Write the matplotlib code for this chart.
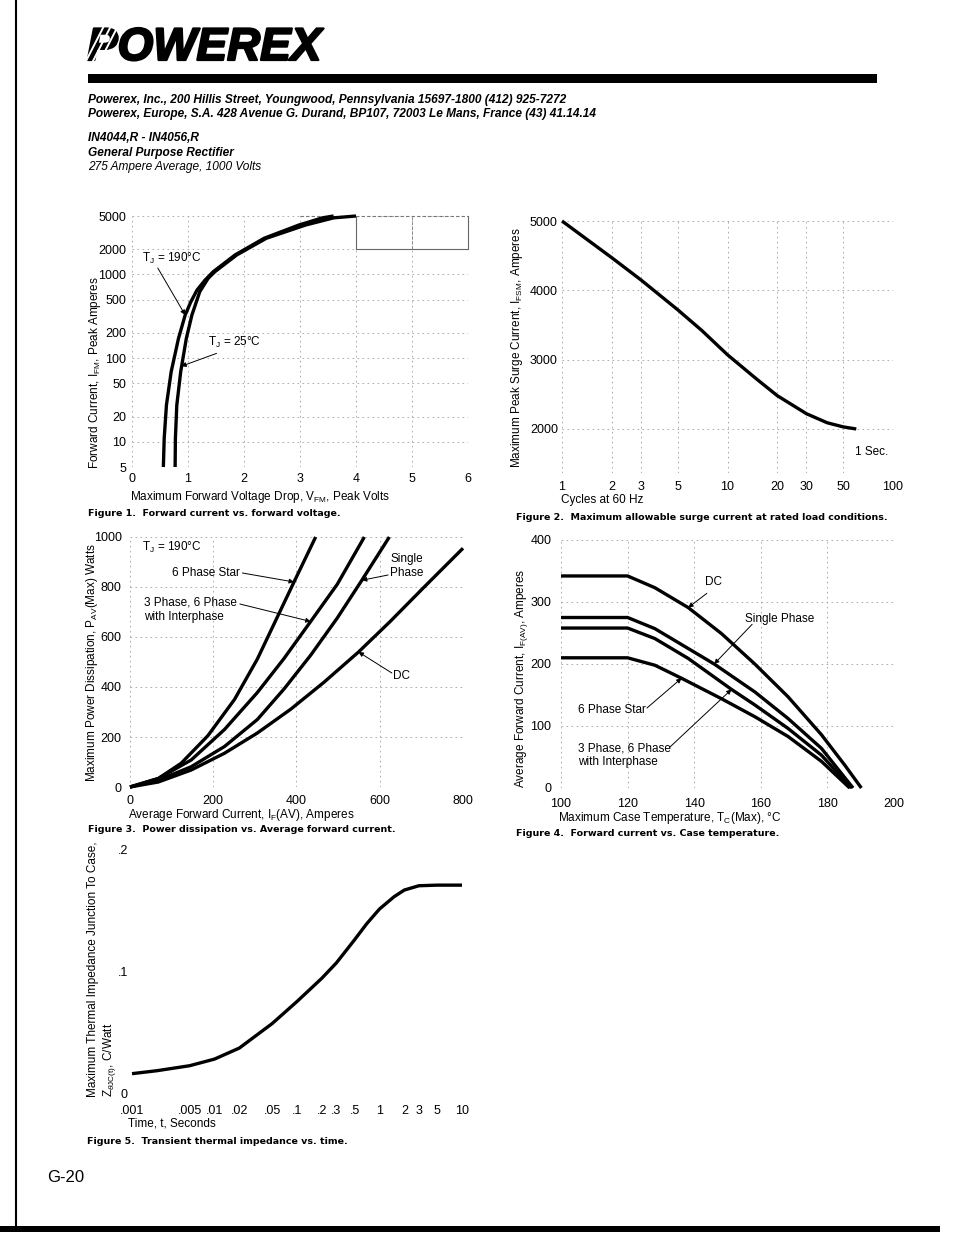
import numpy as np
import matplotlib.pyplot as plt
import matplotlib.patheffects as pe
from matplotlib.lines import Line2D
from matplotlib.patches import Rectangle
from matplotlib.ticker import NullLocator

W, H = 954, 1235

# ---- Figure 1: forward current vs forward voltage ----
fig1_i_ticks = [5, 10, 20, 50, 100, 200, 500, 1000, 2000, 5000]
fig1_v_ticks = [0, 1, 2, 3, 4, 5, 6]
tj190_v = [0.56, 0.575, 0.615, 0.70, 0.83, 0.95, 1.05, 1.16, 1.30, 1.45, 1.84, 2.36, 2.98, 3.4, 3.6]
tj190_i = [5, 11, 27.5, 69, 172, 328, 470, 650, 850, 1079, 1711, 2710, 3900, 4750, 5000]
tj25_v = [0.77, 0.775, 0.80, 0.87, 0.97, 1.07, 1.21, 1.36, 1.48, 1.87, 2.40, 3.1, 3.6, 4.0]
tj25_i = [5, 11, 27.5, 69, 172, 328, 622, 900, 1079, 1711, 2710, 3900, 4750, 5000]

# ---- Figure 2: surge current vs cycles ----
fig2_x_ticks = [1, 2, 3, 5, 10, 20, 30, 50, 100]
fig2_y_ticks = [2000, 3000, 4000, 5000]
surge_cycles = [1, 2, 3, 5, 7, 10, 15, 20, 30, 40, 50, 60]
surge_amps = [5000, 4470, 4150, 3720, 3420, 3070, 2720, 2480, 2220, 2090, 2030, 2000]

# ---- Figure 3: power dissipation vs average current ----
star_a = [0, 68, 123, 187, 251, 306, 354, 394, 446]
star_w = [0, 34, 95, 205, 350, 512, 680, 820, 1000]
three_a = [0, 68, 147, 227, 306, 370, 434, 498, 563]
three_w = [0, 34, 108, 230, 378, 514, 662, 811, 1000]
single_a = [0, 68, 147, 227, 306, 370, 434, 498, 557, 623]
single_w = [0, 27, 81, 162, 270, 392, 527, 676, 827, 1000]
dc_a = [0, 68, 147, 227, 306, 386, 466, 549, 625, 705, 800]
dc_w = [0, 20, 68, 135, 216, 311, 419, 540, 662, 797, 955]

# ---- Figure 4: forward current vs case temperature ----
dc_t = [100, 120, 128.2, 138.2, 148.2, 158.2, 168.2, 178.2, 185.2, 190.2]
dc_i = [342, 342, 323, 291, 249, 200, 147, 86, 37, 0]
sp_t = [100, 120, 128.2, 146, 158.2, 168.2, 178.2, 187.7]
sp_i = [275, 275, 257, 200, 155, 112, 64, 0]
tp_t = [100, 120, 128.2, 138.2, 151.2, 158.2, 168.2, 178.2, 187.2]
tp_i = [258, 258, 241, 209, 159, 134, 96, 53, 0]
st_t = [100, 120, 128.2, 136.2, 148.2, 158.2, 168.2, 178.2, 186.7]
st_i = [210, 210, 198, 177, 144, 115, 83, 43, 0]

# ---- Figure 5: transient thermal impedance ----
fig5_x_ticks = [.001, .005, .01, .02, .05, .1, .2, .3, .5, 1, 2, 3, 5, 10]
fig5_x_labels = ['.001', '.005', '.01', '.02', '.05', '.1', '.2', '.3', '.5',
                 '1', '2', '3', '5', '10']
zth_t = [0.001, 0.002, 0.005, 0.01, 0.02, 0.05, 0.1, 0.2, 0.3, 0.5, 0.7, 1,
         1.5, 2, 3, 5, 10]
zth_val = [0.0166, 0.019, 0.0231, 0.0285, 0.0375, 0.0575, 0.0755, 0.0945,
           0.107, 0.126, 0.139, 0.151, 0.161, 0.1665, 0.170, 0.1705, 0.1705]

plt.rcParams['font.family'] = ['Liberation Sans', 'DejaVu Sans']
plt.rcParams['mathtext.fontset'] = 'custom'
plt.rcParams['mathtext.rm'] = 'Liberation Sans'
plt.rcParams['mathtext.it'] = 'Liberation Sans:italic'
plt.rcParams['mathtext.bf'] = 'Liberation Sans:bold'

fig = plt.figure(figsize=(W / 100, H / 100), dpi=100)


def box(l, t, r, b):
    return [l / W, 1 - b / H, (r - l) / W, (b - t) / H]


def ftext(x, y, s, **kw):
    kw.setdefault('va', 'center')
    kw.setdefault('ha', 'left')
    fig.text(x / W, 1 - y / H, s, **kw)


def style(ax, pad=4):
    for s in ax.spines.values():
        s.set_visible(False)
    ax.tick_params(length=0, labelsize=9, pad=pad)
    ax.grid(True, color='#a0a0a0', lw=0.6, ls=(0, (2, 4)))
    ax.set_axisbelow(True)


def arrow(ax, tip, tail):
    ax.annotate('', xy=tip, xytext=tail,
                arrowprops=dict(arrowstyle='-|>', color='black', lw=0.7,
                                mutation_scale=7, shrinkA=0, shrinkB=0))


CURVE = dict(color='black', lw=2.4, solid_capstyle='butt', clip_on=False)
LBL = dict(fontsize=8.5)
CAP = dict(fontsize=6.8, fontweight='bold', family=['DejaVu Sans'])

# ---------------- header ----------------
ftext(87, 60, 'POWEREX', fontsize=33, fontweight='heavy', style='italic',
      va='baseline', path_effects=[pe.withStroke(linewidth=1.6, foreground='black')])
# white stripes through the P of the logo
for x0 in (86, 93, 100):
    fig.add_artist(Line2D([x0 / W, (x0 + 20) / W], [1 - 61 / H, 1 - 22 / H],
                          transform=fig.transFigure, color='white', lw=1.4,
                          zorder=10))
fig.add_artist(Rectangle((88 / W, 1 - 83 / H), (877 - 88) / W, 9 / H,
                         transform=fig.transFigure, color='black', lw=0))
HB = dict(fontsize=8.6, fontweight='bold', style='italic')
ftext(88, 100, 'Powerex, Inc., 200 Hillis Street, Youngwood, Pennsylvania 15697-1800 (412) 925-7272', **HB)
ftext(88, 114, 'Powerex, Europe, S.A. 428 Avenue G. Durand, BP107, 72003 Le Mans, France (43) 41.14.14', **HB)
ftext(88, 138, 'IN4044,R - IN4056,R', **HB)
ftext(88, 153, 'General Purpose Rectifier', **HB)
ftext(88, 167, '275 Ampere Average, 1000 Volts', fontsize=8.6, style='italic')

# ---------------- Figure 1 ----------------
ax1 = fig.add_axes(box(132, 216, 468, 467))
ax1.set_yscale('log')
ax1.set_xlim(0, 6)
ax1.set_ylim(5, 5000)
ax1.yaxis.set_minor_locator(NullLocator())
ax1.set_yticks(fig1_i_ticks)
ax1.set_yticklabels([str(v) for v in fig1_i_ticks])
ax1.set_xticks(fig1_v_ticks)
style(ax1)
for xv in (4, 6):
    ax1.plot([xv, xv], [2000, 5000], color='#666666', lw=0.8, clip_on=False)
ax1.plot([4, 6], [2000, 2000], color='#666666', lw=0.8)
ax1.plot([5, 5], [2000, 5000], color='#888888', lw=0.7, ls=(0, (3, 2)))
ax1.plot([3, 6], [5000, 5000], color='#777777', lw=0.8, ls=(0, (3, 2)), clip_on=False)
ax1.plot(tj190_v, tj190_i, **CURVE)
ax1.plot(tj25_v, tj25_i, **CURVE)
ax1.text(0.18, 1570, 'T$_\\mathrm{J}$ = 190°C', va='center', **LBL)
arrow(ax1, (0.95, 328), (0.46, 1195))
ax1.text(1.36, 152, 'T$_\\mathrm{J}$ = 25°C', va='center', **LBL)
arrow(ax1, (0.88, 80), (1.51, 114))
ftext(95, 373, 'Forward Current, I$_\\mathrm{FM}$, Peak Amperes', rotation=90,
      ha='center', **LBL)
ftext(130, 497, 'Maximum Forward Voltage Drop, V$_\\mathrm{FM}$, Peak Volts', **LBL)
ftext(88, 513, 'Figure 1.  Forward current vs. forward voltage.', **CAP)

# ---------------- Figure 2 ----------------
ax2 = fig.add_axes(box(562, 221, 893, 473))
ax2.set_xscale('log')
ax2.set_xlim(1, 100)
ax2.set_ylim(1365, 5000)
ax2.xaxis.set_minor_locator(NullLocator())
ax2.set_xticks(fig2_x_ticks)
ax2.set_xticklabels([str(v) for v in fig2_x_ticks])
ax2.set_yticks(fig2_y_ticks)
style(ax2, pad=6)
ax2.tick_params(axis='y', pad=3)
ax2.plot(surge_cycles, surge_amps, **CURVE)
ax2.text(59, 1668, '1 Sec.', va='center', **LBL)
ftext(517, 348, 'Maximum Peak Surge Current, I$_\\mathrm{FSM}$, Amperes', rotation=90,
      ha='center', **LBL)
ftext(561, 500, 'Cycles at 60 Hz', **LBL)
ftext(516, 518, 'Figure 2.  Maximum allowable surge current at rated load conditions.', **CAP)

# ---------------- Figure 3 ----------------
ax3 = fig.add_axes(box(130, 537, 463, 787))
ax3.set_xlim(0, 800)
ax3.set_ylim(0, 1000)
ax3.set_xticks([0, 200, 400, 600, 800])
ax3.set_yticks([0, 200, 400, 600, 800, 1000])
style(ax3, pad=6)
ax3.plot(star_a, star_w, **CURVE)
ax3.plot(three_a, three_w, **CURVE)
ax3.plot(single_a, single_w, **CURVE)
ax3.plot(dc_a, dc_w, **CURVE)
ax3.text(29, 960, 'T$_\\mathrm{J}$ = 190°C', va='center', **LBL)
ax3.text(264, 856, '6 Phase Star', va='center', ha='right', **LBL)
arrow(ax3, (star_a[7], star_w[7]), (270, 856))
ax3.text(34, 736, '3 Phase, 6 Phase', va='center', **LBL)
ax3.text(34, 680, 'with Interphase', va='center', **LBL)
arrow(ax3, (three_a[6], three_w[6]), (264, 732))
ax3.text(625, 912, 'Single', va='center', **LBL)
ax3.text(625, 856, 'Phase', va='center', **LBL)
arrow(ax3, (single_a[8], single_w[8]), (620, 848))
ax3.text(632, 444, 'DC', va='center', **LBL)
arrow(ax3, (dc_a[7], dc_w[7]), (629, 456))
ftext(92, 663, 'Maximum Power Dissipation, P$_\\mathrm{AV}$(Max) Watts', rotation=90,
      ha='center', **LBL)
ftext(128, 815, 'Average Forward Current, I$_\\mathrm{F}$(AV), Amperes', **LBL)
ftext(88, 830, 'Figure 3.  Power dissipation vs. Average forward current.', **CAP)

# ---------------- Figure 4 ----------------
ax4 = fig.add_axes(box(561, 540, 894, 788))
ax4.set_xlim(100, 200)
ax4.set_ylim(0, 400)
ax4.set_xticks([100, 120, 140, 160, 180, 200])
ax4.set_yticks([0, 100, 200, 300, 400])
style(ax4, pad=7)
ax4.plot(dc_t, dc_i, **CURVE)
ax4.plot(sp_t, sp_i, **CURVE)
ax4.plot(tp_t, tp_i, **CURVE)
ax4.plot(st_t, st_i, **CURVE)
ax4.text(143.2, 332, 'DC', va='center', **LBL)
arrow(ax4, (dc_t[3], dc_i[3]), (143.8, 314))
ax4.text(155.3, 272, 'Single Phase', va='center', **LBL)
arrow(ax4, (sp_t[3], sp_i[3]), (157.4, 264))
ax4.text(105.1, 126, '6 Phase Star', va='center', **LBL)
arrow(ax4, (st_t[3], st_i[3]), (125.8, 129))
ax4.text(105.1, 64, '3 Phase, 6 Phase', va='center', **LBL)
ax4.text(105.1, 42, 'with Interphase', va='center', **LBL)
arrow(ax4, (tp_t[4], tp_i[4]), (132.7, 66))
ftext(521, 678, 'Average Forward Current, I$_\\mathrm{F(AV)}$, Amperes', rotation=90,
      ha='center', **LBL)
ftext(558, 818, 'Maximum Case Temperature, T$_\\mathrm{C}$(Max), °C', **LBL)
ftext(516, 834, 'Figure 4.  Forward current vs. Case temperature.', **CAP)

# ---------------- Figure 5 ----------------
ax5 = fig.add_axes(box(132, 849, 462, 1094))
ax5.set_xscale('log')
ax5.set_xlim(0.001, 10)
ax5.set_ylim(0, 0.2)
ax5.xaxis.set_minor_locator(NullLocator())
ax5.set_xticks(fig5_x_ticks)
ax5.set_xticklabels(fig5_x_labels)
ax5.set_yticks([0, 0.1, 0.2])
ax5.set_yticklabels(['0', '.1', '.2'])
style(ax5, pad=8)
ax5.tick_params(axis='y', pad=3)
ax5.grid(False)
ax5.plot(zth_t, zth_val, **CURVE)
ftext(93, 1097, 'Maximum Thermal Impedance Junction To Case,', rotation=90,
      ha='left', va='center', rotation_mode='anchor', **LBL)
ftext(110, 1097, 'Z$_{\\theta\\mathrm{JC(t)}}$, C/Watt', rotation=90,
      ha='left', va='center', rotation_mode='anchor', **LBL)
ftext(128, 1124, 'Time, t, Seconds', **LBL)
ftext(87, 1141, 'Figure 5.  Transient thermal impedance vs. time.', **CAP)

# ---------------- page furniture ----------------
ftext(47, 1177, 'G-20', fontsize=12)
fig.add_artist(Rectangle((0, 1 - 1232 / H), 940 / W, 6 / H,
                         transform=fig.transFigure, color='black', lw=0))
fig.add_artist(Line2D([16 / W, 16 / W], [1 - 1230 / H, 1.0],
                      transform=fig.transFigure, color='black', lw=1.5))

fig.savefig('out.png', dpi=100)
